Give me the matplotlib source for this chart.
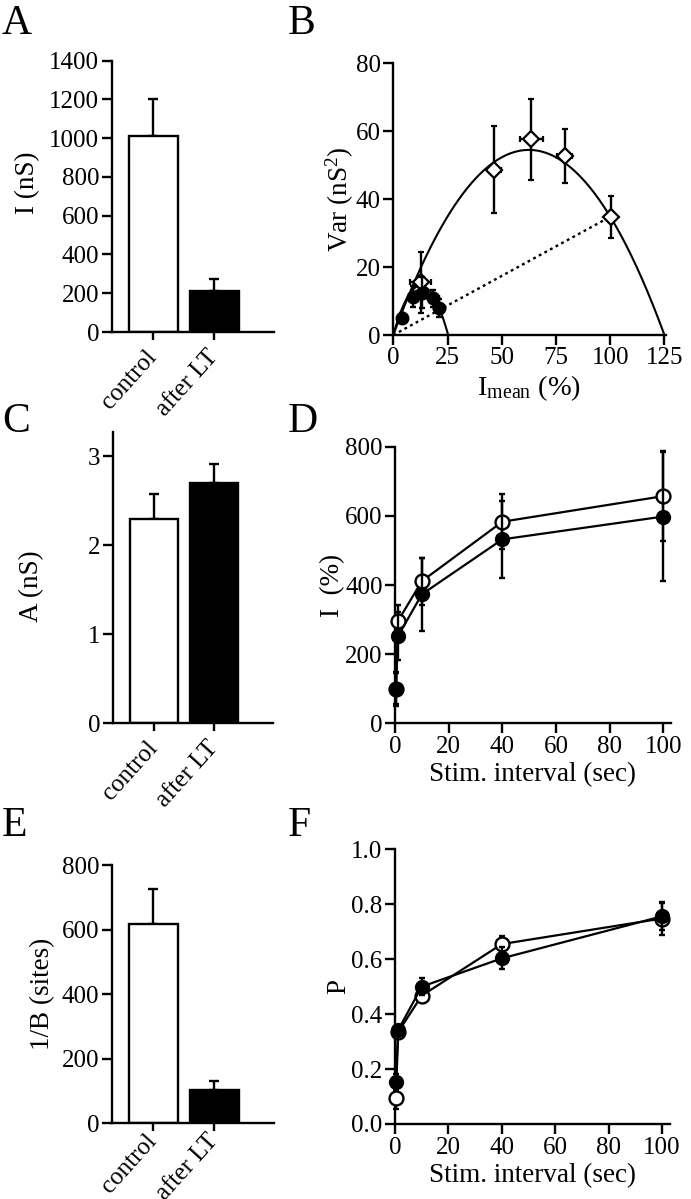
import matplotlib
matplotlib.use('Agg')
import matplotlib.pyplot as plt
import numpy as np

plt.rcParams['font.family'] = ['Liberation Serif', 'DejaVu Serif']
plt.rcParams['mathtext.fontset'] = 'custom'
plt.rcParams['mathtext.rm'] = 'Liberation Serif'
plt.rcParams['mathtext.it'] = 'Liberation Serif:italic'
plt.rcParams['mathtext.bf'] = 'Liberation Serif:bold'

# ---------------- data ----------------
groups = ['control', 'after LT']

A_vals = [1010, 210]
A_err = [190, 62]

C_vals = [2.29, 2.70]
C_err = [0.28, 0.21]

E_vals = [617, 103]
E_err = [108, 28]

# Panel B: variance-mean
B_open_x = [12.6, 46.5, 63.7, 79.0, 100.5]
B_open_y = [15.5, 48.6, 57.6, 52.8, 34.8]
B_open_xerr = [4.9, 3.0, 5.4, 3.6, 1.0]
B_open_yerr = [9.0, 12.8, 12.0, 7.9, 6.1]

B_fill_x = [3.9, 9.2, 13.1, 18.4, 21.2]
B_fill_y = [4.9, 11.3, 12.5, 10.8, 7.9]
B_fill_xerr = [1.0, 2.0, 2.5, 2.5, 2.6]
B_fill_yerr = [1.5, 3.0, 4.5, 2.5, 2.7]

# parabola fits: Var = slope * I * (1 - I / Imax)
B_open_fit = (1.744, 125.0)
B_fill_fit = (2.3, 25.3)
B_dot_x = [0, 100]
B_dot_y = [0, 34.8]

# Panels D and F
stim = [0.3, 1.2, 10, 40, 100]
D_open = [100, 297, 411, 583, 657]
D_open_err = [45, 45, 68, 80, 130]
D_fill = [99, 253, 373, 532, 598]
D_fill_err = [50, 70, 105, 111, 186]

F_open = [0.095, 0.335, 0.467, 0.655, 0.748]
F_open_err = [0.04, 0.02, 0.02, 0.03, 0.06]
F_fill = [0.152, 0.342, 0.500, 0.603, 0.756]
F_fill_err = [0.03, 0.02, 0.03, 0.04, 0.05]

# ---------------- figure ----------------
W, H = 691, 1199
fig = plt.figure(figsize=(W / 100, H / 100), dpi=100)


def add_ax(left, right, top, bottom):
    return fig.add_axes([left / W, 1 - bottom / H, (right - left) / W, (bottom - top) / H])


FS = 18
LFS_AX = 19.5
LW = 1.7


def style(ax):
    for s in ['top', 'right']:
        ax.spines[s].set_visible(False)
    for s in ['left', 'bottom']:
        ax.spines[s].set_linewidth(LW)
    ax.tick_params(direction='out', length=7, width=LW, labelsize=FS, pad=2)


def bar_panel(ax, vals, errs, ylim, yticks, ylabel, xfs=FS - 1.5):
    x = np.arange(len(groups))
    ax.bar(x, vals, width=0.8, color=['white', 'black'], edgecolor='black', linewidth=LW, zorder=2)
    ax.errorbar(x, vals, yerr=[[0] * len(errs), errs], fmt='none', ecolor='black',
                elinewidth=LW, capsize=3.5, capthick=LW, zorder=1)
    ax.set_xlim(-0.675, 1.97)
    ax.set_ylim(*ylim)
    ax.set_yticks(yticks)
    ax.set_xticks(x)
    ax.set_xticklabels(groups, rotation=48, ha='right', va='center',
                       rotation_mode='anchor', fontsize=xfs)
    style(ax)
    ax.tick_params(axis='x', length=6, pad=9)
    ax.set_ylabel(ylabel, fontsize=LFS_AX, labelpad=5)


axA = add_ax(111.7, 274, 60.7, 332)
bar_panel(axA, A_vals, A_err, (0, 1400), range(0, 1401, 200), 'I (nS)')
axA.yaxis.set_label_coords(-0.44, 0.55)

axC = add_ax(113, 272.7, 432, 723.3)
bar_panel(axC, C_vals, C_err, (0, 3.27), [0, 1, 2, 3], 'A (nS)')
axC.yaxis.set_label_coords(-0.43, 0.47)

axE = add_ax(111.7, 274, 865, 1123.3)
bar_panel(axE, E_vals, E_err, (0, 800), range(0, 801, 200), '1/B (sites)', xfs=14)
axE.tick_params(axis='x', pad=4)

# Panel B
axB = add_ax(393.3, 665.5, 63.3, 335)
xx = np.linspace(0, B_open_fit[1], 300)
axB.plot(xx, B_open_fit[0] * xx * (1 - xx / B_open_fit[1]), color='black', lw=1.5, zorder=1)
xs = np.linspace(0, B_fill_fit[1], 200)
axB.plot(xs, B_fill_fit[0] * xs * (1 - xs / B_fill_fit[1]), color='black', lw=1.5, zorder=1)
axB.plot(B_dot_x, B_dot_y, color='black', lw=1.7, linestyle=(0, (1.2, 1.5)), zorder=1)
axB.errorbar(B_open_x, B_open_y, xerr=B_open_xerr, yerr=B_open_yerr, fmt='D', ms=8.5,
             mfc='white', mec='black', mew=1.6, ecolor='black', elinewidth=1.7,
             capsize=2.5, capthick=1.7, zorder=3)
axB.errorbar(B_fill_x, B_fill_y, xerr=B_fill_xerr, yerr=B_fill_yerr, fmt='o', ms=9,
             mfc='black', mec='black', ecolor='black', elinewidth=1.7,
             capsize=2.5, capthick=1.7, zorder=4)
axB.set_xlim(0, 125.5)
axB.set_ylim(0, 80)
axB.set_xticks(range(0, 126, 25))
axB.set_yticks(range(0, 81, 20))
style(axB)
axB.set_ylabel(r'Var (nS$^{\rm 2}$)', fontsize=LFS_AX, labelpad=0)
axB.set_xlabel(r'I$_{\rm mean}$ (%)', fontsize=LFS_AX + 1, labelpad=3)


def line_panel(ax, yo, yoe, yf, yfe, xlim, ylim, yticks, ylabel, ms=10):
    ax.errorbar(stim, yo, yerr=yoe, fmt='-o', color='black', ms=ms, mfc='white', mec='black',
                mew=1.7, lw=1.6, elinewidth=1.7, capsize=2, capthick=1.7, zorder=3)
    ax.errorbar(stim, yf, yerr=yfe, fmt='-o', color='black', ms=ms, mfc='black', mec='black',
                lw=1.6, elinewidth=1.7, capsize=2, capthick=1.7, zorder=4)
    ax.set_xlim(*xlim)
    ax.set_ylim(*ylim)
    ax.set_xticks(range(0, 101, 20))
    ax.set_yticks(yticks)
    style(ax)
    ax.set_ylabel(ylabel, fontsize=LFS_AX, labelpad=0)
    ax.set_xlabel('Stim. interval (sec)', fontsize=LFS_AX, labelpad=3)


axD = add_ax(395, 670.7, 446.7, 723.3)
line_panel(axD, D_open, D_open_err, D_fill, D_fill_err, (0, 102.75), (0, 800),
           range(0, 801, 200), 'I  (%)')
for art in axD.get_children():
    try:
        art.set_clip_on(False)
    except Exception:
        pass

axF = add_ax(395, 670, 849.3, 1124)
line_panel(axF, F_open, F_open_err, F_fill, F_fill_err, (0, 103), (0, 1.0),
           [0.0, 0.2, 0.4, 0.6, 0.8, 1.0], 'P')
axF.set_yticklabels(['0.0', '0.2', '0.4', '0.6', '0.8', '1.0'])
for art in axF.get_children():
    try:
        art.set_clip_on(False)
    except Exception:
        pass

# panel letters
LFS = 30
for letter, (px, py) in {'A': (2, 5), 'B': (288, 5), 'C': (2, 402), 'D': (288, 402),
                         'E': (2, 806), 'F': (288, 806)}.items():
    fig.text(px / W, 1 - py / H, letter, fontsize=LFS, va='top', ha='left')

fig.savefig('out.png', dpi=100, facecolor='white')
